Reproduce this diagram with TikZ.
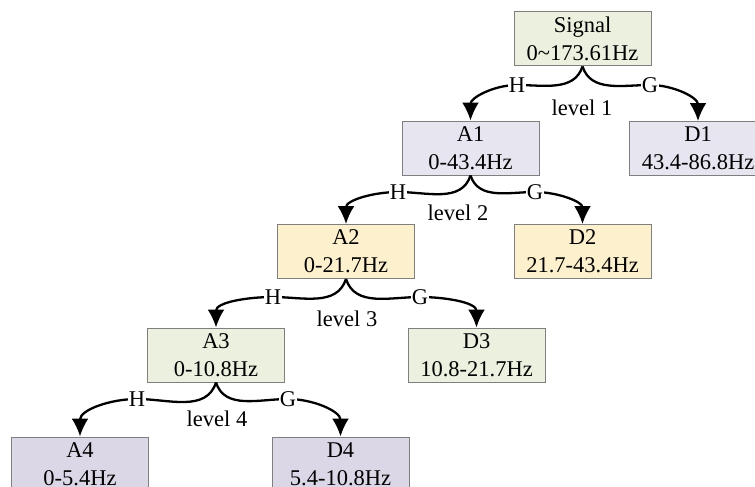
\documentclass[tikz,border=0pt]{standalone}
\usepackage{fontspec}
\setmainfont{Liberation Serif}
\usetikzlibrary{arrows.meta}
\definecolor{boxgreen}{HTML}{EBF1DE}
\definecolor{boxlav}{HTML}{E7E5EF}
\definecolor{boxyellow}{HTML}{FDF0CC}
\definecolor{boxpurple}{HTML}{DCD7E6}
\definecolor{boxline}{HTML}{7F7F7F}
\tikzset{
  band/.style={draw=boxline, line width=1pt, minimum width=137pt, minimum height=54pt,
    inner sep=0pt, align=center, font=\fontsize{22.5}{28}\selectfont},
  link/.style={line width=2.3pt, -{Latex[length=18pt,width=17pt]}},
  branch/.style={fill=white, inner sep=0.6pt, font=\fontsize{22.5}{24}\selectfont},
  lvl/.style={font=\fontsize{22.5}{24}\selectfont},
}
\begin{document}
\begin{tikzpicture}[x=1pt,y=-1pt]
\useasboundingbox (0,0) rectangle (755,487);

% decomposition boxes
\node[band, fill=boxgreen]  (S)  at (582.5,39)  {Signal\\0\textasciitilde173.61Hz};
\node[band, fill=boxlav]    (A1) at (470.5,148) {A1\\0-43.4Hz};
\node[band, fill=boxlav]    (D1) at (698,148.5) {D1\\43.4-86.8Hz};
\node[band, fill=boxyellow] (A2) at (346,251.5) {A2\\0-21.7Hz};
\node[band, fill=boxyellow] (D2) at (582.5,251.5) {D2\\21.7-43.4Hz};
\node[band, fill=boxgreen]  (A3) at (216,355)   {A3\\0-10.8Hz};
\node[band, fill=boxgreen]  (D3) at (476.5,355) {D3\\10.8-21.7Hz};
\node[band, fill=boxpurple] (A4) at (80,464)    {A4\\0-5.4Hz};
\node[band, fill=boxpurple] (D4) at (340.5,464) {D4\\5.4-10.8Hz};

% filter branch points
\coordinate (h1) at (517,85);  \coordinate (g1) at (650,85);
\coordinate (h2) at (398,192); \coordinate (g2) at (535,192);
\coordinate (h3) at (273,297); \coordinate (g3) at (420,297);
\coordinate (h4) at (137,399); \coordinate (g4) at (288,399);

% low-pass (H) and high-pass (G) branches
\draw[link] (S.south)  to[out=-108,in=0]   (h1) to[out=180,in=90] (A1.north);
\draw[link] (S.south)  to[out=-72,in=180]  (g1) to[out=0,in=90]   (D1.north);
\draw[link] (A1.south) to[out=-108,in=0]   (h2) to[out=180,in=90] (A2.north);
\draw[link] (A1.south) to[out=-72,in=180]  (g2) to[out=0,in=90]   (D2.north);
\draw[link] (A2.south) to[out=-108,in=0]   (h3) to[out=180,in=90] (A3.north);
\draw[link] (A2.south) to[out=-72,in=180]  (g3) to[out=0,in=90]   (D3.north);
\draw[link] (A3.south) to[out=-108,in=0]   (h4) to[out=180,in=90] (A4.north);
\draw[link] (A3.south) to[out=-72,in=180]  (g4) to[out=0,in=90]   (D4.north);

\node[branch] (H1) at (h1) {H}; \node[branch] (G1) at (g1) {G};
\node[branch] (H2) at (h2) {H}; \node[branch] (G2) at (g2) {G};
\node[branch] (H3) at (h3) {H}; \node[branch] (G3) at (g3) {G};
\node[branch] (H4) at (h4) {H}; \node[branch] (G4) at (g4) {G};

% level captions
\node[lvl] (L1) at (582,108) {level 1};
\node[lvl] (L2) at (458,213) {level 2};
\node[lvl] (L3) at (347,319) {level 3};
\node[lvl] (L4) at (217,419) {level 4};
\end{tikzpicture}
\end{document}
